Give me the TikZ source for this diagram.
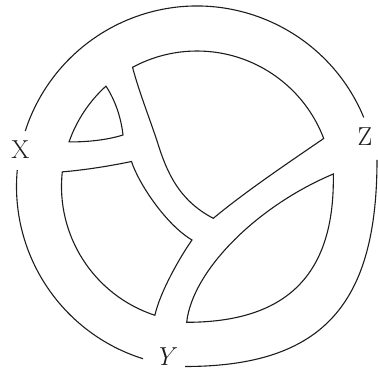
\documentclass[tikz,border=0pt]{standalone}
\usepackage{amsmath}
\usepackage{tikz}
\usetikzlibrary{calc}
\definecolor{inkBlack}{RGB}{28,28,28}
\tikzset{
  rim line/.style={draw=inkBlack,line width=1.1pt},
  pocket line/.style={draw=inkBlack,line width=1.1pt,line join=miter},
  end label/.style={font=\fontsize{26}{30}\selectfont,text=inkBlack,inner sep=0pt}
}
\newcommand{\ringOuter}{180.5pt}
\newcommand{\ringInner}{135.5pt}

\begin{document}
\begin{tikzpicture}[x=1pt,y=1pt]
  \useasboundingbox (0,0) rectangle (378,372);
  \coordinate (hub) at (197,185.5);
  % outer rim, open at the three ends
  \draw[rim line] ($(hub)+(22.5:\ringOuter)$) arc[start angle=22.5,end angle=162.1,radius=\ringOuter];
  \draw[rim line] ($(hub)+(174.8:\ringOuter)$) arc[start angle=174.8,end angle=252.6,radius=\ringOuter];
  \draw[rim line] (377,212) .. controls (377,68.7) and (323.7,5.5) .. (185,5.5);
  % pockets between the bands
  \draw[pocket line] ($(hub)+(132.2:\ringInner)$) arc[start angle=132.2,end angle=160.8,radius=\ringInner]
    .. controls (88,230) and (107,232) .. (123,237)
    .. controls (121,255) and (115,272) .. cycle;
  \draw[pocket line] (213.3,153.7) .. controls (245,180) and (285,207) .. ($(hub)+(20.75:\ringInner)$)
    arc[start angle=20.75,end angle=118.4,radius=\ringInner]
    .. controls (139,280) and (151,250) .. (158,228)
    .. controls (166.4,201.6) and (178,172) .. cycle;
  \draw[pocket line] ($(hub)+(173.8:\ringInner)$) .. controls (85,202) and (110,206) .. (131.5,210.5)
    .. controls (138,190) and (165,148) .. (192,132)
    .. controls (180,115) and (160,80) .. ($(hub)+(251.9:\ringInner)$)
    arc[start angle=251.9,end angle=173.8,radius=\ringInner] -- cycle;
  \draw[pocket line] (186.7,49.7) .. controls (192,100) and (255,165) .. (333.3,198)
    .. controls (335,102.3) and (291.7,49.7) .. cycle;
  % ends
  \node[end label] (endX) at (20.5,222) {X};
  \node[end label] (endZ) at (365,235) {Z};
  \node[end label] (endY) at (166,15) {\textit{Y}};
\end{tikzpicture}
\end{document}
